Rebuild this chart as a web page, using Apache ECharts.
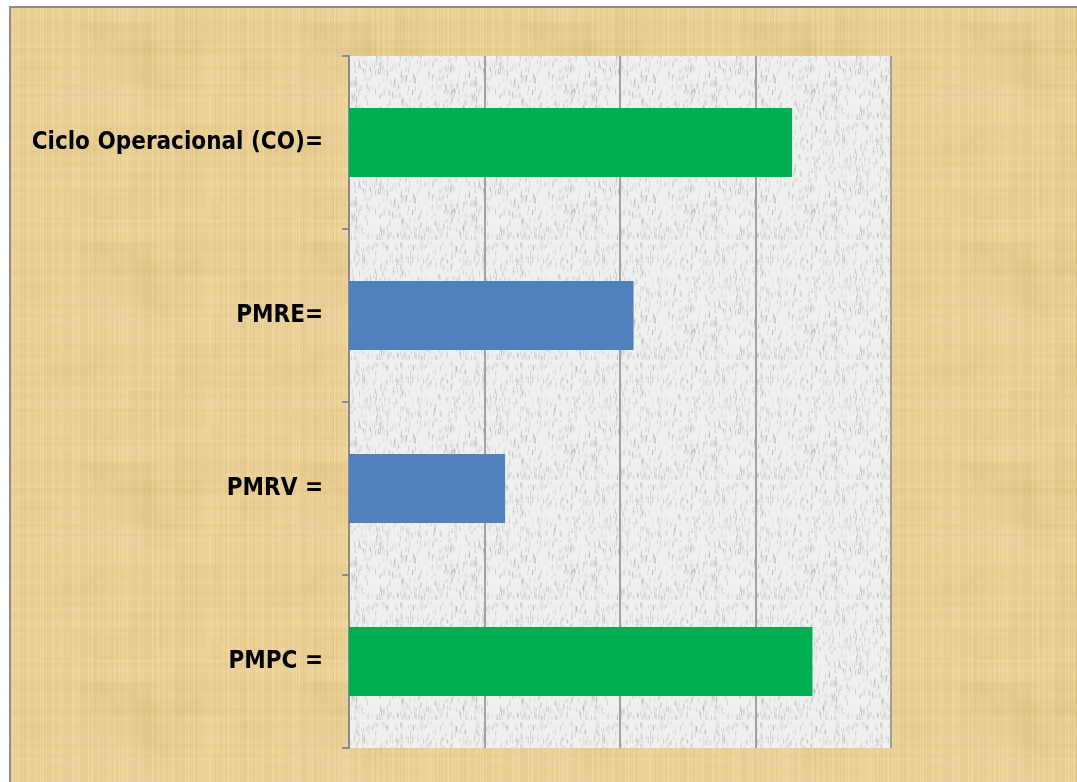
<!DOCTYPE html>
<html>
<head>
<meta charset="utf-8">
<script src="https://cdn.jsdelivr.net/npm/echarts@6/dist/echarts.min.js"></script>
<style>
html,body{margin:0;padding:0;background:#ffffff;}
#chart{width:1077px;height:782px;}
</style>
</head>
<body>
<div id="chart"></div>
<script>
// ---- data ----
const categories = ['Ciclo Operacional (CO)=', 'PMRE=', 'PMRV =', 'PMPC ='];
const values = [163.5, 105, 57.6, 171];
const axisMin = 0;
const axisMax = 200;
const axisInterval = 50;

// ---- styles ----
const barColors = ['#00b050', '#4f81bd', '#4f81bd', '#00b050'];

// deterministic hash for texture
function hash(x, y, s) {
  const v = Math.sin(x * 127.1 + y * 311.7 + s * 74.7) * 43758.5453;
  return v - Math.floor(v);
}
function paperTexture() {
  const c = document.createElement('canvas');
  c.width = 220; c.height = 220;
  const g = c.getContext('2d');
  g.fillStyle = '#ead095';
  g.fillRect(0, 0, 220, 220);
  for (let x = 0; x < 220; x++) {
    const h = hash(x, 0, 1);
    g.fillStyle = h > 0.5 ? 'rgba(255,238,200,' + (h - 0.5) * 0.45 + ')' : 'rgba(200,160,90,' + (0.5 - h) * 0.3 + ')';
    g.fillRect(x, 0, 1, 220);
  }
  for (let y = 0; y < 220; y += 3) {
    const h = hash(0, y, 2);
    g.fillStyle = h > 0.5 ? 'rgba(255,240,205,' + (h - 0.5) * 0.2 + ')' : 'rgba(200,160,90,' + (0.5 - h) * 0.14 + ')';
    g.fillRect(0, y, 220, 3);
  }
  for (let i = 0; i < 40; i++) {
    const x = hash(i, 7, 8) * 220, y = hash(i, 9, 10) * 220;
    const w = 20 + hash(i, 11, 12) * 60, hh = 20 + hash(i, 13, 14) * 60;
    g.fillStyle = hash(i, 15, 16) > 0.5 ? 'rgba(245,215,170,0.08)' : 'rgba(205,170,100,0.06)';
    g.fillRect(x, y, w, hh);
  }
  return c;
}
function stoneTexture() {
  const c = document.createElement('canvas');
  c.width = 120; c.height = 120;
  const g = c.getContext('2d');
  g.fillStyle = '#f0f0ef';
  g.fillRect(0, 0, 120, 120);
  for (let i = 0; i < 900; i++) {
    const x = hash(i, 1, 3) * 120, y = hash(i, 2, 4) * 120;
    const d = hash(i, 3, 5);
    g.fillStyle = 'rgba(120,120,120,' + (0.08 + d * 0.18) + ')';
    g.fillRect(x, y, 1, 2 + d * 4);
  }
  return c;
}

const chart = echarts.init(document.getElementById('chart'), null, {renderer: 'canvas'});
chart.setOption({
  backgroundColor: '#ffffff',
  animation: false,
  graphic: [{
    type: 'rect',
    z: -10,
    shape: {x: 10, y: 7, width: 1080, height: 790},
    style: {fill: {image: paperTexture(), repeat: 'repeat'}, stroke: '#8c8c8c', lineWidth: 2}
  }],
  grid: {
    left: 349, top: 56, right: 186, bottom: 34,
    containLabel: false,
    outerBoundsMode: 'none',
    show: true,
    borderWidth: 0,
    backgroundColor: {image: stoneTexture(), repeat: 'repeat'}
  },
  xAxis: {
    type: 'value',
    min: axisMin, max: axisMax, interval: axisInterval,
    axisLabel: {show: false},
    axisLine: {show: false},
    axisTick: {show: false},
    splitLine: {show: true, lineStyle: {color: '#8a8a8a', width: 1.5}}
  },
  yAxis: {
    type: 'category',
    data: categories,
    inverse: true,
    axisLine: {show: true, lineStyle: {color: '#8a8a8a', width: 2}},
    axisTick: {show: true, length: 7, lineStyle: {color: '#8a8a8a', width: 2}},
    axisLabel: {
      margin: 26,
      color: '#000000',
      fontWeight: 'bold',
      fontSize: 24,
      fontFamily: "'Liberation Sans Narrow', 'DejaVu Sans Condensed', 'Arial Narrow', sans-serif"
    }
  },
  series: [{
    type: 'bar',
    data: values.map((v, i) => ({value: v, itemStyle: {color: barColors[i]}})),
    barCategoryGap: '60%'
  }]
});
</script>
</body>
</html>
